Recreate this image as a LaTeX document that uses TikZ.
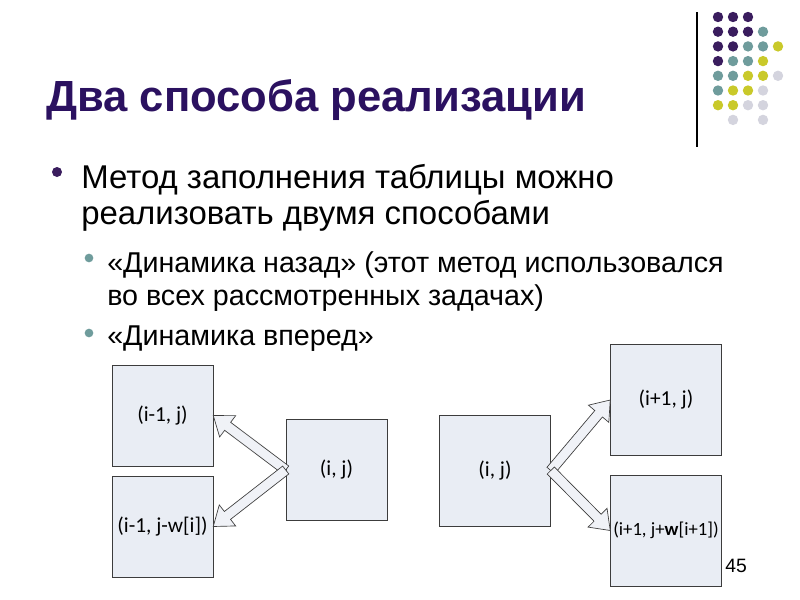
\documentclass[tikz,border=0pt]{standalone}
\usepackage{fontspec}
\setmainfont{Liberation Sans}
\newfontfamily\boxfont{Carlito}
\usetikzlibrary{calc}

\definecolor{titlepurple}{RGB}{43,17,96}
\definecolor{dotpurple}{RGB}{58,29,94}
\definecolor{dotteal}{RGB}{111,156,156}
\definecolor{dotyellow}{RGB}{201,201,42}
\definecolor{dotgray}{RGB}{212,212,222}
\definecolor{boxfill}{RGB}{233,237,244}
\definecolor{boxline}{RGB}{60,60,60}

% hollow block arrow from #1 (tail) to #2 (tip)
\newcommand{\blockarrow}[2]{%
  \path ($(#2)!13.5pt!(#1)$) coordinate (h);
  \draw[arrowbody] ($(#1)!3.75pt!90:(#2)$) -- ($(h)!3.75pt!90:(#2)$)
    -- ($(h)!10pt!90:(#2)$) -- (#2) -- ($(h)!10pt!-90:(#2)$)
    -- ($(h)!3.75pt!-90:(#2)$) -- ($(#1)!3.75pt!-90:(#2)$) -- cycle;
}

\begin{document}
\begin{tikzpicture}[x=0.75pt,y=-0.75pt,
    smallbox/.style = {draw=boxline, fill=boxfill, inner sep=0pt,
      minimum width=75.75pt, minimum height=76pt, font=\boxfont\fontsize{16}{19}\selectfont},
    bigbox/.style = {draw=boxline, fill=boxfill, inner sep=0pt,
      minimum width=83.25pt, minimum height=83pt, font=\boxfont\fontsize{16}{19}\selectfont},
    arrowbody/.style = {draw=boxline, fill=boxfill!70!white, line width=0.5pt, line join=miter},
    txt/.style = {anchor=base west, inner sep=0pt}]
    \fill[white] (0,0) rectangle (800,600);
    \useasboundingbox (0,0) rectangle (800,600);

    % decoration in the corner
    \draw[line width=0.9pt] (697,12) -- (697,147);
    \foreach \c/\r/\col in {0/0/dotpurple,1/0/dotpurple,2/0/dotpurple,
        0/1/dotpurple,1/1/dotpurple,2/1/dotpurple,3/1/dotteal,
        0/2/dotpurple,1/2/dotpurple,2/2/dotteal,3/2/dotteal,4/2/dotyellow,
        0/3/dotpurple,1/3/dotteal,2/3/dotteal,3/3/dotyellow,
        0/4/dotteal,1/4/dotteal,2/4/dotyellow,3/4/dotyellow,4/4/dotgray,
        0/5/dotteal,1/5/dotyellow,2/5/dotyellow,3/5/dotgray,
        0/6/dotyellow,1/6/dotyellow,2/6/dotgray,3/6/dotgray,
        1/7/dotgray,3/7/dotgray}
      \fill[\col] (718+15*\c,17+14.7*\r) circle (3.9pt);

    % title and text
    \node[txt, text=titlepurple, font=\bfseries\fontsize{32.7}{38}\selectfont] (title) at (46,111) {Два способа реализации};
    \node[circle, fill=dotpurple, inner sep=0pt, minimum size=7.5pt] (b1) at (57,172) {};
    \node[txt, font=\fontsize{24.7}{30}\selectfont] (l1) at (81,188) {Метод заполнения таблицы можно};
    \node[txt, font=\fontsize{24.7}{30}\selectfont] (l2) at (81,224) {реализовать двумя способами};
    \node[circle, fill=dotteal, inner sep=0pt, minimum size=6.5pt] (b2) at (89,258) {};
    \node[txt, font=\fontsize{21.5}{26}\selectfont] (s1) at (107,272) {«Динамика назад» (этот метод использовался};
    \node[txt, font=\fontsize{21.5}{26}\selectfont] (s2) at (107,305) {во всех рассмотренных задачах)};
    \node[circle, fill=dotteal, inner sep=0pt, minimum size=6.5pt] (b3) at (89,333) {};
    \node[txt, font=\fontsize{21.5}{26}\selectfont] (s3) at (107,345) {«Динамика вперед»};

    % backward scheme
    \node[smallbox] (A) at (162.5,415.5) {(i-1, j)};
    \node[smallbox] (B) at (162.5,526.5) {(i-1, j-w[i])};
    \node[smallbox] (C) at (336.5,470) {(i, j)};
    \blockarrow{C.west}{A.east}
    \blockarrow{C.west}{B.east}

    % forward scheme
    \node[bigbox] (D) at (495,470.5) {(i, j)};
    \node[bigbox] (E) at (666,400) {(i+1, j)};
    \node[bigbox, font=\boxfont\fontsize{14}{17}\selectfont] (F) at (666,530.5) {(i+1, j+\textbf{w}[i+1])};
    \blockarrow{D.east}{E.west}
    \blockarrow{D.east}{F.west}

    \node[txt, font=\fontsize{14.5}{17}\selectfont] (page) at (725,572) {45};
\end{tikzpicture}
\end{document}
